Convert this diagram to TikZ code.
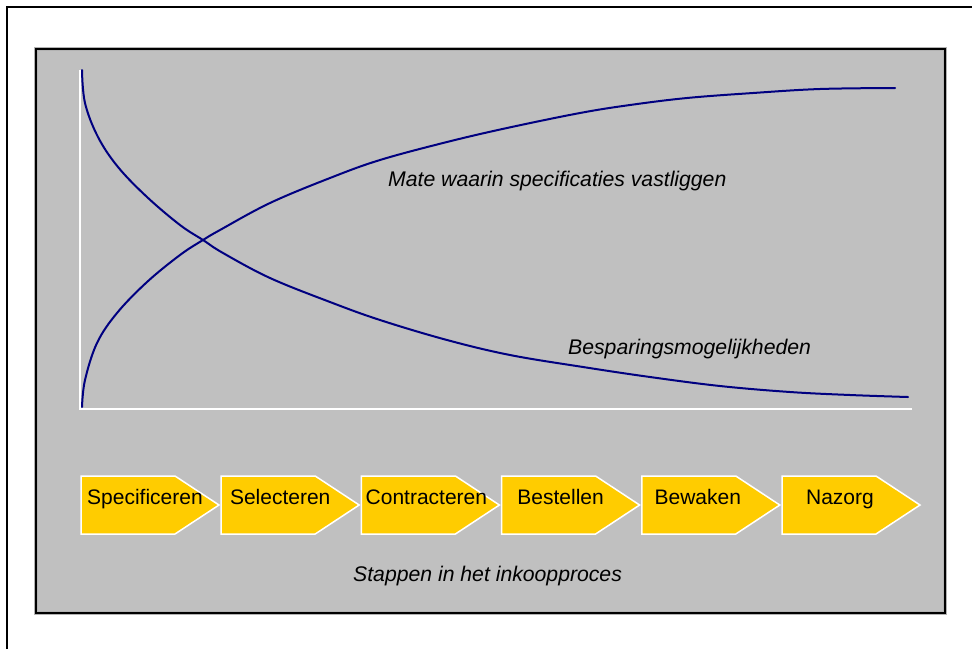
\documentclass[tikz,border=0pt]{standalone}
\usepackage{fontspec}
\setmainfont{Liberation Sans}
\usetikzlibrary{calc}
\definecolor{panelgray}{HTML}{C0C0C0}
\definecolor{stepyellow}{HTML}{FFCC00}
\definecolor{curveblue}{HTML}{000080}
\tikzset{
  curve/.style={draw=curveblue, line width=2pt, line join=round, line cap=round},
  stepshape/.style={fill=stepyellow, draw=white, line width=1.5pt},
  steptext/.style={font=\fontsize{21}{25}\selectfont, anchor=base, inner sep=0pt},
  curvelabel/.style={font=\fontsize{21.2}{25}\selectfont\itshape, anchor=base west, inner sep=0pt}
}

\begin{document}
\begin{tikzpicture}[x=1pt,y=-1pt]
				\useasboundingbox (0,0) rectangle (972,649);
				\draw[line width=1.5pt] (7,649) -- (7,7) -- (972,7);
				
				\draw[fill=panelgray, draw=gray!60, line width=3.5pt] (36,49) rectangle (945,613);
				\draw[line width=2pt] (36,49) rectangle (945,613);
				
				\draw[white, line width=1.5pt] (80,70) -- (80,409) -- (912,409);
				
				% savings curve
				\draw[curve] plot[smooth, tension=0.6] coordinates {(82,70) (85,103) (98,137) (118,167) (147,197) (180,225) (203,240) (223,253) (270,278) (330,302) (380,320) (447,340) (510,355) (583,367) (650,377) (720,386) (790,392) (850,395) (908,397)};
				% specification curve
				\draw[curve] plot[smooth, tension=0.6] coordinates {(82,407) (85,380) (97,343) (117,313) (147,282) (180,255) (203,240) (220,230) (270,203) (330,178) (380,160) (447,142) (507,128) (580,113) (630,105) (687,98) (753,93) (820,89) (895,88)};
				
				\node[curvelabel] (speclabel) at (388,186) {Mate waarin specificaties vastliggen};
				\node[curvelabel] (savelabel) at (568,354) {Besparingsmogelijkheden};
				
				\foreach \name/\dx [count=\i from 0] in {Specificeren/64, Selecteren/59, Contracteren/65, Bestellen/59, Bewaken/56, Nazorg/58} {
					\pgfmathsetmacro{\xo}{81+140.2*\i}
					\draw[stepshape] (\xo,476) -- ++(94,0) -- ++(44,29) -- ++(-44,29) -- ++(-94,0) -- cycle;
					\node[steptext] (step\i) at (\xo+\dx,504) {\name};
				}
				
				\node[curvelabel] (proclabel) at (353,581) {Stappen in het inkoopproces};
			\end{tikzpicture}
\end{document}
